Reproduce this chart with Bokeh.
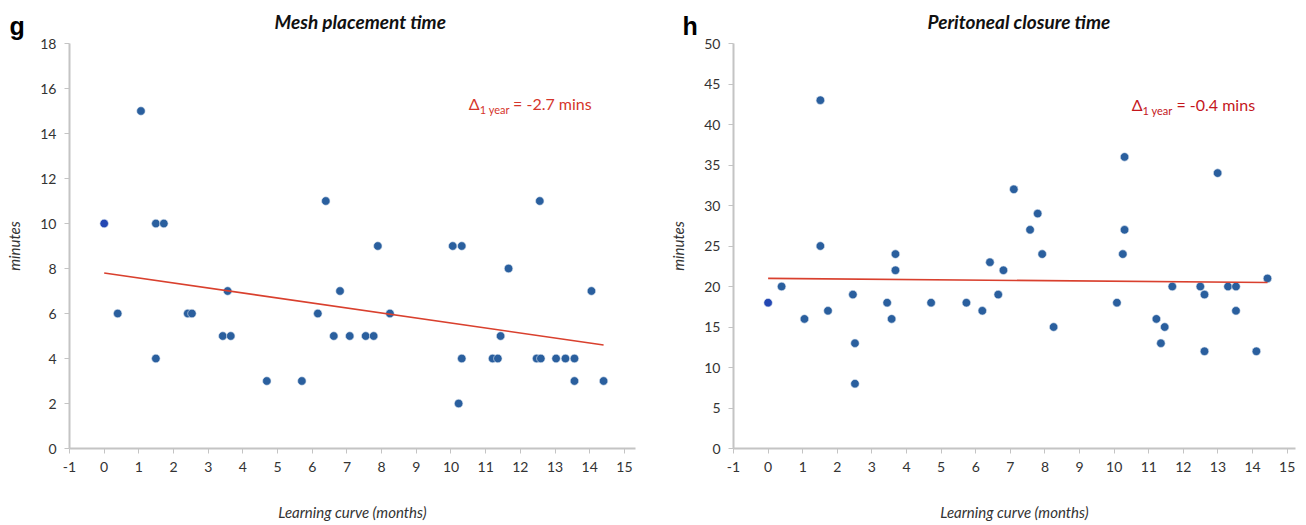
from bokeh.plotting import figure
from bokeh.layouts import row
from bokeh.models import Label, FixedTicker, Range1d, Title
from bokeh.embed import file_html
from bokeh.resources import INLINE

# ---------------- data ----------------
x_ticks = list(range(-1, 16))

mesh_x = [0, 0.39, 1.06, 1.49, 1.72, 1.49, 2.41, 2.53, 3.42, 3.65, 3.56, 4.69, 5.70,
          6.16, 6.39, 6.62, 6.80, 7.08, 7.54, 7.77, 7.89, 8.24, 10.05, 10.31, 10.22,
          10.31, 11.20, 11.35, 11.43, 11.66, 12.47, 12.59, 12.56, 13.03, 13.30, 13.56,
          13.56, 14.05, 14.40]
mesh_y = [10, 6, 15, 10, 10, 4, 6, 6, 5, 5, 7, 3, 3, 6, 11, 5, 7, 5, 5, 5, 9, 6, 9, 9,
          2, 4, 4, 4, 5, 8, 4, 4, 11, 4, 4, 4, 3, 7, 3]
mesh_trend_x = [0, 14.4]
mesh_trend_y = [7.8, 4.6]
mesh_y_ticks = list(range(0, 19, 2))

peri_x = [0, 0.39, 1.05, 1.51, 1.51, 1.73, 2.45, 2.51, 2.51, 3.44, 3.57, 3.68, 3.68,
          4.71, 5.73, 6.19, 6.41, 6.65, 6.80, 7.10, 7.57, 7.79, 7.92, 8.25, 10.08,
          10.25, 10.30, 10.30, 11.22, 11.35, 11.46, 11.68, 12.49, 12.61, 12.61, 12.99,
          13.29, 13.52, 13.52, 14.11, 14.43]
peri_y = [18, 20, 16, 43, 25, 17, 19, 13, 8, 18, 16, 24, 22, 18, 18, 17, 23, 19, 22,
          32, 27, 29, 24, 15, 18, 24, 36, 27, 16, 13, 15, 20, 20, 19, 12, 34, 20, 20,
          17, 12, 21]
peri_trend_x = [0, 14.43]
peri_trend_y = [21.0, 20.5]
peri_y_ticks = list(range(0, 51, 5))

titles = ["Mesh placement time", "Peritoneal closure time"]
panel_letters = ["g", "h"]
deltas = ["-2.7", "-0.4"]

# ---------------- style ----------------
FONT = "Lato"
DOT = "#2a5f9e"
FIRST_DOT = "#2347b3"
AXIS_COL = "#c4c4c4"


def make_panel(xs, ys, tx, ty, yticks, ymax, title, letter, width,
               border_left, border_right, x_end, title_offset, letter_offset):
    # the plot's own title holds the panel letter (outermost row)
    p = figure(width=width, height=523, output_backend="svg", toolbar_location=None,
               x_range=Range1d(-1, x_end), y_range=Range1d(0, ymax),
               min_border_left=border_left, min_border_right=border_right,
               min_border_top=42, min_border_bottom=75, title=letter)
    p.title.text_font = "Liberation Sans"
    p.title.text_font_style = "bold"
    p.title.text_font_size = "25px"
    p.title.align = "left"
    p.title.offset = letter_offset
    p.title.standoff = -78
    p.title.text_color = "black"

    main_title = Title(text=title, text_font=FONT, text_font_style="bold italic",
                       text_font_size="19px", align="left", offset=title_offset,
                       standoff=18, vertical_align="top", text_color="#111111")
    p.add_layout(main_title, "above")

    p.outline_line_color = None
    p.xgrid.grid_line_color = None
    p.ygrid.grid_line_color = None
    p.background_fill_color = "white"
    p.border_fill_color = "white"

    for ax in (p.xaxis[0], p.yaxis[0]):
        ax.axis_line_color = AXIS_COL
        ax.axis_line_width = 2
        ax.major_tick_line_color = AXIS_COL
        ax.major_tick_line_width = 1
        ax.major_tick_out = 5
        ax.major_tick_in = 0
        ax.minor_tick_line_color = None
        ax.major_label_text_font = FONT
        ax.major_label_text_font_size = "14px"
        ax.major_label_text_color = "#333333"
        ax.axis_label_text_font = FONT
        ax.axis_label_text_font_style = "italic"
        ax.axis_label_text_font_size = "15px"
        ax.axis_label_text_color = "#333333"
    p.xaxis.ticker = FixedTicker(ticks=x_ticks)
    p.xaxis.major_label_overrides = {t: str(t) for t in x_ticks}
    p.yaxis.ticker = FixedTicker(ticks=yticks)
    p.xaxis.axis_label = "Learning curve (months)"
    p.yaxis.axis_label = "minutes"
    p.xaxis.major_label_standoff = 8
    p.yaxis.major_label_standoff = 8
    p.xaxis.axis_label_standoff = 28
    p.yaxis.axis_label_standoff = 14

    colors = [FIRST_DOT] + [DOT] * (len(xs) - 1)
    p.scatter(xs, ys, size=8.5, fill_color=colors, line_color="#dfe8f2", line_width=0.6)
    p.line(tx, ty, line_color="#d9402e", line_width=1.6)
    return p


p1 = make_panel(mesh_x, mesh_y, mesh_trend_x, mesh_trend_y, mesh_y_ticks, 18,
                titles[0], panel_letters[0], 657, 69, 22, 15.32, 205, -60)
p2 = make_panel(peri_x, peri_y, peri_trend_x, peri_trend_y, peri_y_ticks, 50,
                titles[1], panel_letters[1], 640, 76, 2, 15.24, 194, -51)


def add_delta(p, x0, x1, x2, yb, ys, delta, col):
    p.add_layout(Label(x=x0, y=yb, text="Δ", text_font=FONT, text_font_size="16px",
                       text_color=col, text_baseline="alphabetic"))
    p.add_layout(Label(x=x1, y=ys, text="1 year", text_font=FONT, text_font_size="11px",
                       text_color=col, text_baseline="alphabetic"))
    p.add_layout(Label(x=x2, y=yb, text="= " + delta + " mins", text_font=FONT,
                       text_font_size="16px", text_color=col, text_baseline="alphabetic"))


add_delta(p1, 10.51, 10.83, 11.79, 15.34, 15.07, deltas[0], "#d5352b")
add_delta(p2, 10.51, 10.82, 11.80, 42.48, 41.78, deltas[1], "#c4161c")

layout = row(p1, p2)
open("out.html", "w").write(file_html(layout, INLINE))
